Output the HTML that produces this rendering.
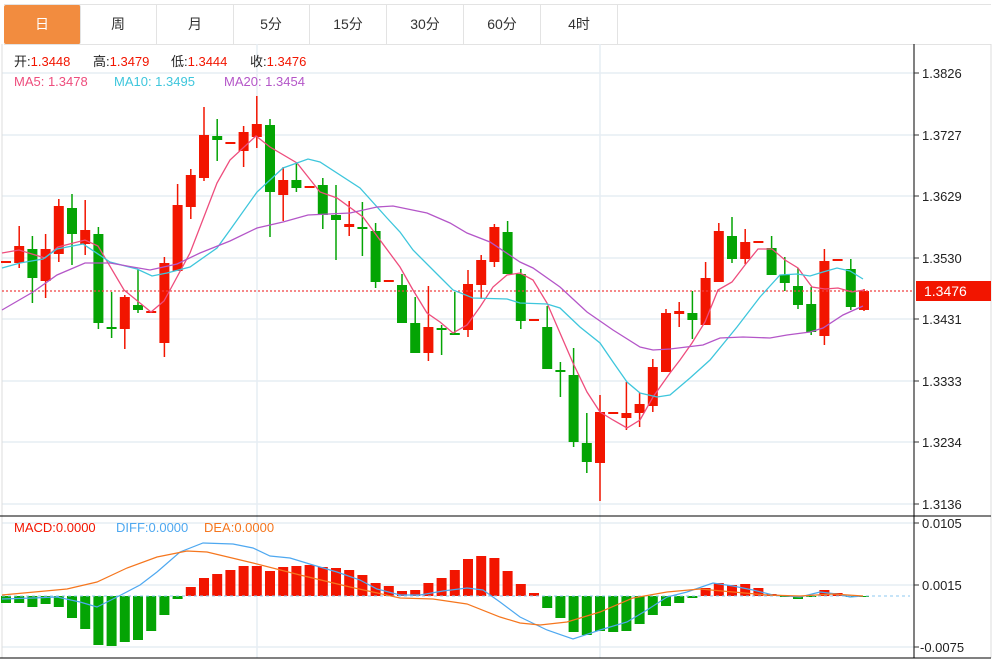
<!DOCTYPE html>
<html><head><meta charset="utf-8"><style>
html,body{margin:0;padding:0;background:#fff;width:1001px;height:660px;overflow:hidden}
body{font-family:"Liberation Sans","Noto Sans CJK SC",sans-serif;position:relative}
.tabs{position:absolute;left:4px;top:4px;height:39px;width:987px;border-top:1px solid #e3e3e3;border-bottom:1px solid #e3e3e3;}
.tab{position:absolute;top:0;height:39px;width:76px;border-right:1px solid #e3e3e3;text-align:center;line-height:39px;font-size:14px;color:#333}
.tab.on{background:#f28c3f;color:#fff;border-radius:2px}
svg{position:absolute;left:0;top:0}
</style></head><body>
<div class="tabs">
<div class="tab on" style="left:0">日</div>
<div class="tab" style="left:76px">周</div>
<div class="tab" style="left:153px">月</div>
<div class="tab" style="left:229px">5分</div>
<div class="tab" style="left:306px">15分</div>
<div class="tab" style="left:383px">30分</div>
<div class="tab" style="left:460px">60分</div>
<div class="tab" style="left:537px">4时</div>
</div>
<svg id="s" width="1001" height="660" xmlns="http://www.w3.org/2000/svg" font-family="Liberation Sans, Noto Sans CJK SC, sans-serif">
<g stroke="#e6edf3" stroke-width="1.5">
<line x1="2" y1="73" x2="914" y2="73"/><line x1="2" y1="135" x2="914" y2="135"/><line x1="2" y1="196" x2="914" y2="196"/><line x1="2" y1="258" x2="914" y2="258"/><line x1="2" y1="319" x2="914" y2="319"/><line x1="2" y1="381" x2="914" y2="381"/><line x1="2" y1="442" x2="914" y2="442"/><line x1="2" y1="504" x2="914" y2="504"/>
<line x1="2" y1="523" x2="914" y2="523"/><line x1="2" y1="585" x2="914" y2="585"/><line x1="2" y1="647" x2="914" y2="647"/>
<line x1="257" y1="44" x2="257" y2="658"/><line x1="600" y1="44" x2="600" y2="658"/>
</g>
<line x1="2" y1="44" x2="2" y2="658" stroke="#ddd"/>
<line x1="991" y1="44" x2="991" y2="658" stroke="#ddd"/>
<line x1="0" y1="516" x2="991" y2="516" stroke="#000"/>
<line x1="0" y1="658" x2="991" y2="658" stroke="#000"/>
<line x1="914" y1="44" x2="914" y2="658" stroke="#000"/>
<g id="c"></g>
<line x1="2" y1="291" x2="914" y2="291" stroke="#f04040" stroke-width="1.2" stroke-dasharray="2,2"/>
<line x1="2" y1="596" x2="910" y2="596" stroke="#8cc8f0" stroke-dasharray="3,3"/>
<polyline fill="none" stroke="#ee4d7d" stroke-width="1.3" points="2,253 19,250 45,258 58,247 85,240 98,246 124,290 151,312 164,301 170,290 190,253 217,183 230,160 256,136 270,147 297,163 320,192 337,198 363,217 380,240 400,267 413,290 427,313 440,322 453,333 467,325 480,307 493,287 507,275 520,273 533,280 547,303 560,333 573,363 587,392 600,412 613,420 627,428 640,420 653,397 670,373 680,360 692,343 705,322 718,290 732,282 745,265 758,249 772,249 785,260 798,268 812,287 825,289 838,288 852,292 864,290"/>
<polyline fill="none" stroke="#3ec6dc" stroke-width="1.3" points="2,268 20,263 43,259 57,249 83,244 110,262 137,269 152,276 167,273 190,267 217,248 230,230 257,192 283,168 308,159 320,162 360,188 387,218 400,232 413,250 440,277 453,290 473,298 507,299 520,303 547,304 560,308 580,327 600,343 613,362 627,382 640,393 657,397 670,395 690,378 710,360 737,327 760,297 780,275 797,274 810,276 823,272 837,268 850,271 863,279"/>
<polyline fill="none" stroke="#b456c8" stroke-width="1.3" points="2,310 33,292 57,275 85,263 110,263 150,270 177,264 200,253 230,241 257,228 283,222 308,215 350,213 377,207 393,206 427,213 450,223 467,233 490,242 520,262 533,268 560,287 587,312 613,330 640,347 653,350 670,349 703,345 720,338 743,337 770,338 787,335 810,332 823,328 843,315 863,306"/>
<polyline fill="none" stroke="#4ea8f0" stroke-width="1.2" points="2,599 33,598 57,597 80,602 97,607 117,597 140,585 157,572 180,552 203,543 233,544 253,548 270,556 290,558 313,565 337,572 360,580 377,589 400,595 420,595 443,591 467,588 483,590 500,602 520,617 547,630 573,639 600,630 627,622 647,610 667,597 687,592 713,583 733,586 753,590 773,595 800,597 820,592 837,594 850,597 863,596"/>
<polyline fill="none" stroke="#f5761e" stroke-width="1.2" points="2,595 67,589 97,582 127,568 157,557 187,551 207,552 253,563 300,575 350,587 400,598 433,599 467,604 500,617 520,623 540,625 567,622 600,612 633,598 667,592 700,589 733,592 767,595 800,596 833,594 863,596"/>
<g font-size="13">
<text x="14" y="66" fill="#222">开:<tspan fill="#f21500">1.3448</tspan></text>
<text x="93" y="66" fill="#222">高:<tspan fill="#f21500">1.3479</tspan></text>
<text x="171" y="66" fill="#222">低:<tspan fill="#f21500">1.3444</tspan></text>
<text x="250" y="66" fill="#222">收:<tspan fill="#f21500">1.3476</tspan></text>
<text x="14" y="86" fill="#ee4d7d">MA5: 1.3478</text>
<text x="114" y="86" fill="#3ec6dc">MA10: 1.3495</text>
<text x="224" y="86" fill="#b456c8">MA20: 1.3454</text>
<text x="14" y="532" fill="#f21500">MACD:0.0000</text>
<text x="116" y="532" fill="#4ea8f0">DIFF:0.0000</text>
<text x="204" y="532" fill="#f5761e">DEA:0.0000</text>
</g>
<g stroke="#333"><line x1="914" y1="73" x2="919" y2="73"/><line x1="914" y1="135" x2="919" y2="135"/><line x1="914" y1="196" x2="919" y2="196"/><line x1="914" y1="258" x2="919" y2="258"/><line x1="914" y1="319" x2="919" y2="319"/><line x1="914" y1="381" x2="919" y2="381"/><line x1="914" y1="442" x2="919" y2="442"/><line x1="914" y1="504" x2="919" y2="504"/><line x1="914" y1="523" x2="919" y2="523"/><line x1="914" y1="585" x2="919" y2="585"/><line x1="914" y1="647" x2="919" y2="647"/></g>
<g font-size="13" fill="#222">
<text x="922" y="78">1.3826</text><text x="922" y="140">1.3727</text><text x="922" y="201">1.3629</text><text x="922" y="263">1.3530</text><text x="922" y="324">1.3431</text><text x="922" y="386">1.3333</text><text x="922" y="447">1.3234</text><text x="922" y="509">1.3136</text>
<text x="922" y="528">0.0105</text><text x="922" y="590">0.0015</text><text x="920" y="652">-0.0075</text>
</g>
<rect x="916" y="281" width="75" height="20" fill="#f21500"/>
<text x="924" y="296" font-size="14" fill="#fff">1.3476</text>
</svg>
<script>
var R="#f21500",G="#04a404";
var d=[["r",262,262,262,262],["r",246,263,226,268],["g",249,278,236,303],["r",249,281,234,298],["r",206,254,199,262],["g",208,234,194,265],["r",230,244,200,255],["g",234,323,227,329],["g",327,329,292,338],["r",297,329,295,349],["g",305,310,269,313],["r",312,312,312,312],["r",263,343,257,357],["r",205,271,184,271],["r",175,207,169,219],["r",135,178,107,181],["g",136,140,119,161],["r",143,143,143,143],["r",132,151,126,167],["r",124,137,96,148],["g",125,192,119,237],["r",180,195,167,221],["g",180,188,163,192],["r",187,187,187,187],["g",185,215,178,229],["g",215,220,185,260],["r",224,227,201,236],["g",227,229,202,256],["g",231,282,223,288],["r",281,281,281,281],["g",285,323,274,323],["g",323,353,297,353],["r",327,353,286,361],["g",328,330,325,355],["g",333,335,292,335],["r",284,330,270,337],["r",260,285,255,299],["r",227,262,224,267],["g",232,274,221,274],["g",274,321,269,329],["r",320,320,320,320],["g",327,369,306,369],["g",370,372,362,397],["g",375,442,348,447],["g",443,462,413,473],["r",412,463,395,501],["r",413,413,413,413],["r",413,418,382,430],["r",404,413,393,427],["r",367,406,359,412],["r",313,372,309,372],["r",311,314,302,327],["g",313,320,291,339],["r",278,325,262,325],["r",231,282,223,282],["g",236,259,217,263],["r",242,259,229,264],["r",242,242,242,242],["g",248,275,236,275],["g",275,283,257,291],["g",286,305,268,309],["g",304,332,287,335],["r",261,336,249,345],["r",260,260,260,260],["g",269,307,259,310],["r",291,310,289,311]];
var m=[603,603,607,604,607,618,629,645,646,642,640,631,615,599,587,578,574,570,566,566,571,567,566,565,567,568,570,575,583,586,591,590,583,578,570,559,556,558,571,584,593,608,618,632,635,631,632,631,624,615,606,603,598,588,583,585,584,588,594,597,599,597,590,593,597,596];
var g=document.getElementById("c"),h="";
for(var i=0;i<d.length;i++){var x=6+13.2*i,c=d[i][0]=="r"?R:G,t=d[i][1],b=d[i][2];
h+='<line x1="'+x+'" y1="'+d[i][3]+'" x2="'+x+'" y2="'+d[i][4]+'" stroke="'+c+'" stroke-width="1.5"/>';
if(b-t<2){h+='<rect x="'+(x-5)+'" y="'+(t-1)+'" width="10" height="2" fill="'+c+'"/>';}
else h+='<rect x="'+(x-5)+'" y="'+t+'" width="10" height="'+(b-t)+'" fill="'+c+'"/>';
var v=m[i],z=596;
h+='<rect x="'+(x-5)+'" y="'+Math.min(v,z)+'" width="10" height="'+Math.max(1,Math.abs(v-z))+'" fill="'+(v<z?R:G)+'"/>';}
g.innerHTML=h;
</script>
</body></html>
